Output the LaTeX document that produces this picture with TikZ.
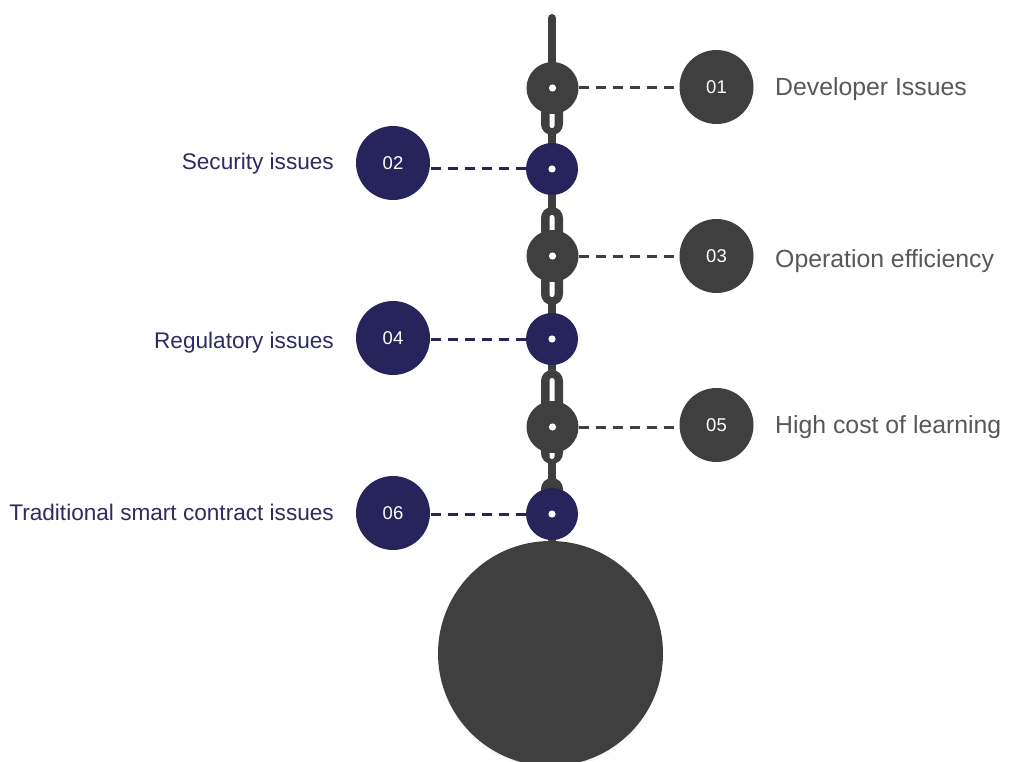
\documentclass[tikz,border=0pt]{standalone}
\usepackage{fontspec}
\setmainfont{Liberation Sans}
\usetikzlibrary{shadows}
\definecolor{chaingray}{RGB}{63,63,63}
\definecolor{navy}{RGB}{39,35,91}
\definecolor{labelgray}{RGB}{88,88,88}
\definecolor{navytext}{RGB}{46,42,98}
\begin{document}
\begin{tikzpicture}[x=1pt,y=-1pt,
  chainlink/.style={fill=chaingray, rounded corners=10.9pt},
  slot/.style={fill=white, rounded corners=2.4pt},
  ccirc/.style={circle, inner sep=0pt, minimum size=52pt,
    path picture={\fill[white] (path picture bounding box.center) circle (3.6pt);}},
  numc/.style={circle, inner sep=0pt, minimum size=74pt, text=white,
    font=\fontsize{18.5}{18.5}\selectfont},
  dashline/.style={line width=3pt, dash pattern=on 10pt off 7pt},
  rlabel/.style={anchor=base west, inner sep=0pt, text=labelgray,
    font=\fontsize{24.8}{24.8}\selectfont},
  llabel/.style={anchor=base east, inner sep=0pt, text=navytext,
    font=\fontsize{22.6}{22.6}\selectfont}
]
\useasboundingbox (0,0) rectangle (1014,762);

% big circle
\node[circle, fill=chaingray, minimum size=225pt, inner sep=0pt,
  circular drop shadow={shadow xshift=0pt, shadow yshift=-3pt, opacity=0.35, shadow scale=1.01}]
  (big) at (550.5,653.5) {};

% chain bar
\draw[chaingray, line width=8pt, line cap=round] (552,18) -- (552,540);

% links
\fill[chainlink] (541,70) rectangle (563,135);
\fill[slot] (549.5,80) rectangle (554.5,128);
\fill[chainlink] (541,207) rectangle (563,305);
\fill[slot] (549.5,215) rectangle (554.5,297);
\fill[chainlink] (541,370) rectangle (563,464);
\fill[slot] (549.5,378) rectangle (554.5,459);
\fill[chainlink] (541,478) rectangle (563,540);

% chain circles
\node[ccirc, fill=chaingray] (c1) at (552.5,88) {};
\node[ccirc, fill=navy] (c2) at (552,169) {};
\node[ccirc, fill=chaingray] (c3) at (552.5,256) {};
\node[ccirc, fill=navy] (c4) at (552,339) {};
\node[ccirc, fill=chaingray] (c5) at (552.5,427) {};
\node[ccirc, fill=navy] (c6) at (552,514) {};

% number circles
\node[numc, fill=chaingray] (n1) at (716.5,87) {01};
\node[numc, fill=navy] (n2) at (393,163) {02};
\node[numc, fill=chaingray] (n3) at (716.5,256) {03};
\node[numc, fill=navy] (n4) at (393,338) {04};
\node[numc, fill=chaingray] (n5) at (716.5,425) {05};
\node[numc, fill=navy] (n6) at (393,513) {06};

% dashed connectors
\draw[dashline, chaingray] (c1.east) -- (c1.east -| n1.west);
\draw[dashline, navy] (c2.west) -- (c2.west -| n2.east);
\draw[dashline, chaingray] (c3.east) -- (c3.east -| n3.west);
\draw[dashline, navy] (c4.west) -- (c4.west -| n4.east);
\draw[dashline, chaingray] (c5.east) -- (c5.east -| n5.west);
\draw[dashline, navy] (c6.west) -- (c6.west -| n6.east);

% labels
\node[rlabel] (t1) at (775,95.5) {Developer Issues};
\node[rlabel] (t3) at (775,267.5) {Operation efficiency};
\node[rlabel] (t5) at (775,433.5) {High cost of learning};
\node[llabel] (t2) at (334,170) {Security issues};
\node[llabel] (t4) at (334,348) {Regulatory issues};
\node[llabel] (t6) at (334,520.5) {Traditional smart contract issues};
\end{tikzpicture}
\end{document}
